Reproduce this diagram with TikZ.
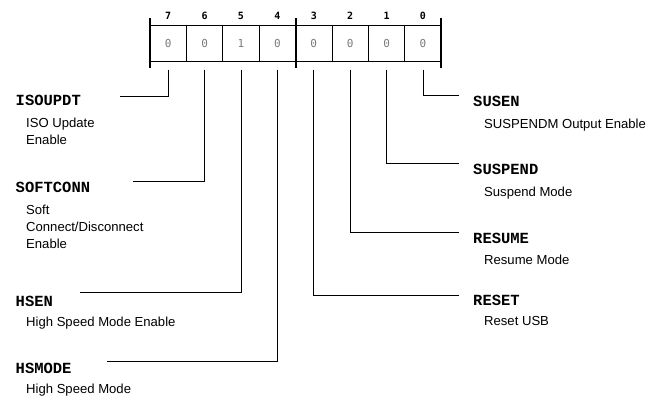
\documentclass[tikz,border=0pt]{standalone}
\usepackage{fontspec}
\setmainfont{Liberation Sans}
\newfontfamily\headfont{Liberation Mono}
\newfontfamily\bitfont{DejaVu Sans Mono}
\usetikzlibrary{calc}
\definecolor{valgray}{HTML}{7A7A7A}
\tikzset{
  cell/.style={draw, line width=0.9pt, minimum width=36.4pt, minimum height=35.5pt, inner sep=0pt,
    text=valgray, font=\bitfont\fontsize{11}{13}\selectfont},
  bitnum/.style={inner sep=0pt, font=\bitfont\bfseries\fontsize{10}{12}\selectfont},
  bar/.style={line width=2.2pt},
  wire/.style={line width=0.9pt},
  head/.style={anchor=base west, inner sep=0pt, font=\headfont\bfseries\fontsize{15.5}{18}\selectfont},
  desc/.style={anchor=base west, inner sep=0pt, font=\fontsize{13.1}{15}\selectfont},
}
\begin{document}
\begin{tikzpicture}[x=1pt,y=-1pt]
\useasboundingbox (0,0) rectangle (649,399);
% register cells
\foreach \b/\x/\v in {7/168.2/0,6/204.6/0,5/241/1,4/277.4/0,3/313.8/0,2/350.2/0,1/386.6/0,0/423/0} {
  \node[cell] (c\b) at (\x,43.25) {\v};
  \node[bitnum] (n\b) at (\x,16) {\b};
  \coordinate (t\b) at (\x,69.5);
}
% thick separators
\draw[bar] (150,18) -- (150,68);
\draw[bar] (295.6,18) -- (295.6,68);
\draw[bar] (441,18) -- (441,68);

% corner and end coordinates
\coordinate (k7) at (168.2,96);   \coordinate (e7) at (120,96);
\coordinate (k6) at (204.6,181.5); \coordinate (e6) at (133,181.5);
\coordinate (k5) at (241,292.5);  \coordinate (e5) at (80,292.5);
\coordinate (k4) at (277.4,361);  \coordinate (e4) at (107,361);
\coordinate (k0) at (423,95.5);   \coordinate (e0) at (459,95.5);
\coordinate (k1) at (386.6,163.3); \coordinate (e1) at (459,163.3);
\coordinate (k2) at (350.2,232.3); \coordinate (e2) at (459,232.3);
\coordinate (k3) at (313.8,295);  \coordinate (e3) at (459,295);
\foreach \b in {0,...,7} {
  \draw[wire] (t\b) -- (k\b) -- (e\b);
}

% left labels
\node[head] (h7) at (15.5,105.5) {ISOUPDT};
\node[desc] (d7a) at (26,127.5) {ISO Update};
\node[desc] (d7b) at (26,144.5) {Enable};
\node[head] (h6) at (15.5,192.5) {SOFTCONN};
\node[desc] (d6a) at (26,214.5) {Soft};
\node[desc] (d6b) at (26,231.5) {Connect/Disconnect};
\node[desc] (d6c) at (26,248) {Enable};
\node[head] (h5) at (15.5,306) {HSEN};
\node[desc] (d5a) at (26,326) {High Speed Mode Enable};
\node[head] (h4) at (15.5,373) {HSMODE};
\node[desc] (d4a) at (26,393) {High Speed Mode};

% right labels
\node[head] (h0) at (473,106) {SUSEN};
\node[desc] (d0a) at (484,128.5) {SUSPENDM Output Enable};
\node[head] (h1) at (473,174) {SUSPEND};
\node[desc] (d1a) at (484,196) {Suspend Mode};
\node[head] (h2) at (473,243.5) {RESUME};
\node[desc] (d2a) at (484,264.5) {Resume Mode};
\node[head] (h3) at (473,305) {RESET};
\node[desc] (d3a) at (484,325.5) {Reset USB};
\end{tikzpicture}
\end{document}
